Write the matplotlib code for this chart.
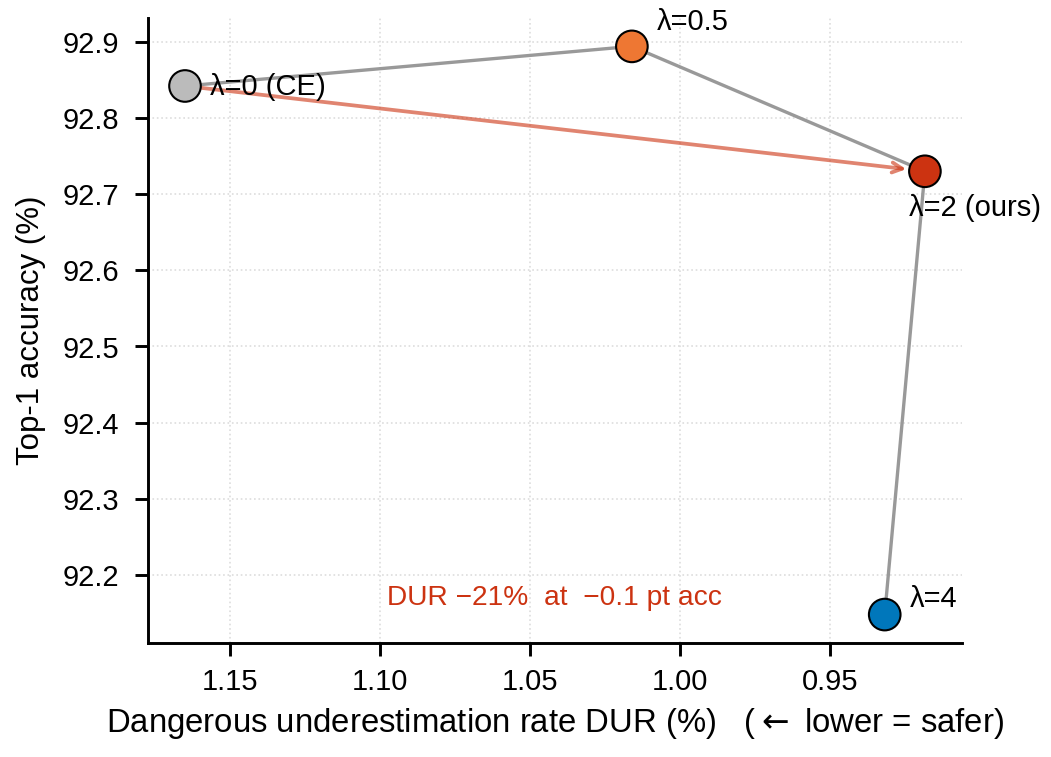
import matplotlib
matplotlib.use("Agg")
import matplotlib.pyplot as plt

# ============================
# DATA
# ============================
LABELS = ["λ=0 (CE)", "λ=0.5", "λ=2 (ours)", "λ=4"]
DUR = [1.165, 1.016, 0.9183, 0.9317]
ACC = [92.842, 92.894, 92.730, 92.148]
COLORS = ["#BBBBBB", "#EE7733", "#CC3311", "#0077BB"]
LABEL_OFFSETS = [(12, -4.3), (12, 8), (-7.7, -21.6), (12, 3.5)]   # points

plt.rcParams["font.family"] = ["Liberation Sans", "DejaVu Sans"]

fig, ax = plt.subplots(figsize=(7.013, 5.047), dpi=150)
fig.subplots_adjust(left=0.1407, right=0.9144, bottom=0.1506, top=0.9762)

# connecting path
ax.plot(DUR, ACC, color="#999999", lw=1.6, zorder=2)

# CE -> ours arrow
ax.annotate("", xy=(DUR[2], ACC[2]), xytext=(DUR[0], ACC[0]),
            arrowprops=dict(arrowstyle="->", color="#CC3311", alpha=0.6,
                            lw=1.8, shrinkA=0, shrinkB=9, mutation_scale=12),
            zorder=3)

ax.scatter(DUR, ACC, s=230, c=COLORS, edgecolors="black", linewidths=1.0, zorder=4)

for x, y, lab, off in zip(DUR, ACC, LABELS, LABEL_OFFSETS):
    ax.annotate(lab, (x, y), xytext=off, textcoords="offset points",
                ha="left", va="baseline", fontsize=14)

ax.text(1.0417, 92.17, "DUR \u221221%  at  \u22120.1 pt acc", color="#CC3311",
        fontsize=13.5, ha="center", va="center")

ax.invert_xaxis()
ax.set_xticks([1.15, 1.10, 1.05, 1.00, 0.95])
ax.set_xticklabels(["1.15", "1.10", "1.05", "1.00", "0.95"])
ax.set_yticks([92.2, 92.3, 92.4, 92.5, 92.6, 92.7, 92.8, 92.9])

ax.set_xlabel("Dangerous underestimation rate DUR (%)   (${\\leftarrow}$ lower = safer)",
              fontsize=15.8, labelpad=5)
ax.set_ylabel("Top-1 accuracy (%)", fontsize=15, labelpad=8)

ax.grid(True, linestyle=":", color="#DDDDDD", lw=0.8)
ax.set_axisbelow(True)
for s in ["top", "right"]:
    ax.spines[s].set_visible(False)
for s in ["left", "bottom"]:
    ax.spines[s].set_linewidth(1.4)
ax.tick_params(axis="both", labelsize=14, width=1.4, length=6.3)
ax.tick_params(axis="x", pad=5.5)
ax.tick_params(axis="y", pad=7.5)

fig.savefig("out.png", dpi=150)
